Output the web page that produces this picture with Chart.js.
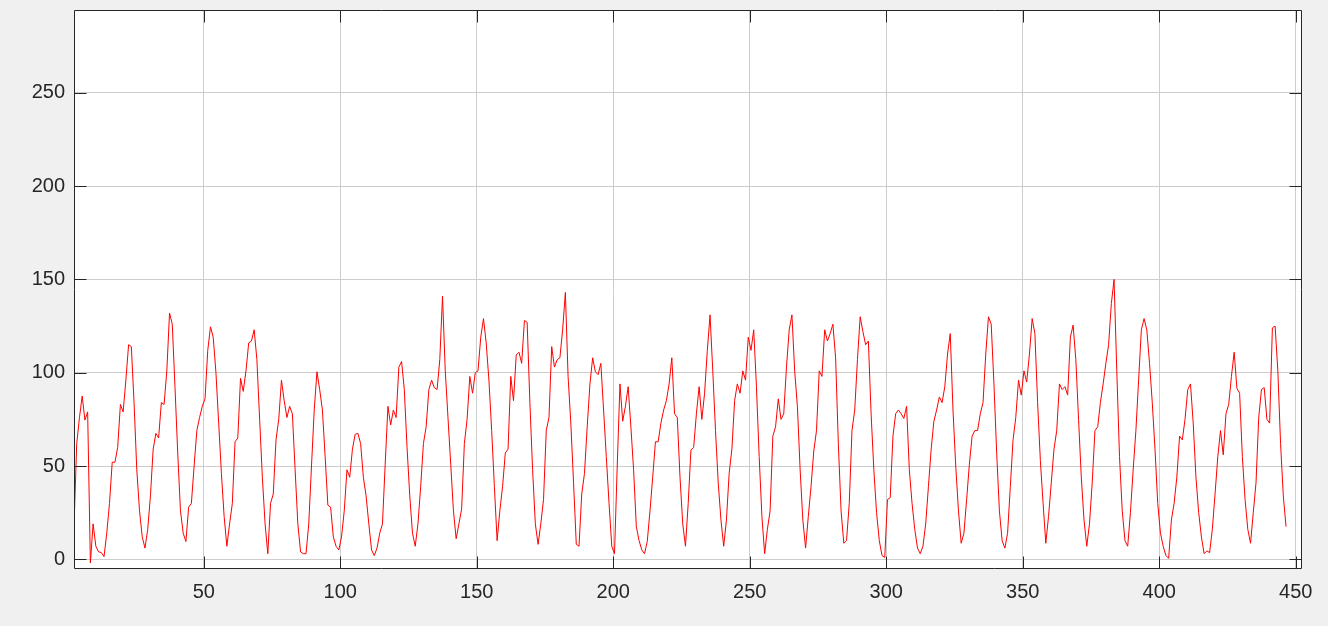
<!DOCTYPE html>
<html>
<head>
<meta charset="utf-8">
<script src="https://cdn.jsdelivr.net/npm/chart.js@4"></script>
<style>
  html, body { margin: 0; padding: 0; background: #f0f0f0; }
  #wrap { width: 1328px; height: 626px; }
</style>
</head>
<body>
<div id="wrap"><canvas id="c" width="1328" height="626"></canvas></div>
<script>
// ---- data ----
const xStart = 2.45;   // x value of the first sample; samples are 1 apart
const values = [
  17.5, 62, 76, 87.5, 74.6, 79, -2, 19, 7, 4, 3.6, 1.4, 14, 30, 52, 52, 60, 83, 79, 96,
  115, 114, 84, 48, 26, 12, 6, 16, 34, 59, 67.5, 65, 84, 83, 101, 132, 126,
  92, 57, 26, 14, 9.5, 28, 30, 50, 69, 76, 82, 86, 112, 124.6, 119, 100, 73, 46, 23, 7,
  19, 30, 63, 65, 97, 90, 101, 116, 117, 123, 107, 75, 44, 19, 3, 30, 35, 64,
  75, 96, 85, 76, 82, 78, 48, 19, 4, 3, 3, 19, 50, 80, 100.5, 91, 80, 55, 29, 28, 12,
  7, 5, 12, 26, 48, 44, 59, 67, 67.5, 62, 44, 34, 19, 5, 2, 6, 14,
  19, 51, 82, 72, 80, 76, 103, 106, 91, 60, 34, 14, 7, 19, 39, 62, 71, 91, 96, 92, 91,
  107, 141, 101, 76, 51, 26, 11, 19, 27, 62, 75, 98, 89, 100, 101, 119, 129,
  116, 96, 69, 39, 10, 26, 39, 57, 59, 98, 85, 109.5, 111, 105, 128, 127, 84, 48, 19, 8,
  19, 32, 69, 76, 114, 103, 107, 108, 123, 143, 98, 73, 41, 8, 7, 35, 46, 71, 94,
  108, 100.5, 99, 105, 80, 55, 30, 7, 3, 50, 94, 74, 82, 92.5, 71, 48, 17.5, 10, 5, 3,
  9.5, 26, 44, 63, 63, 73, 80, 85, 94, 108, 78, 76, 44, 19, 7, 30, 58.6, 60,
  78, 92.5, 75, 89, 112, 131, 101, 69, 41, 21, 7, 21, 46, 59, 85, 94, 89, 101, 96, 119,
  112, 123, 92.5, 55, 23, 3, 16, 26, 66, 71, 86, 75, 78, 103, 123, 131, 101, 82,
  48, 21, 6, 23, 39, 58, 69, 101, 98, 123, 117, 121, 126, 108, 62, 26, 8.6, 10, 30, 69,
  80, 107, 130, 122, 115, 117, 78, 48, 25, 10, 2, 1, 32, 33, 66, 78, 80, 78,
  75.5, 82, 48, 30, 16, 6, 3, 7, 19, 39, 59, 74, 80, 87, 84, 92.5, 110, 121, 80, 50,
  26, 8.6, 14, 32, 51, 66, 69, 69, 78, 84, 110, 130, 126, 94, 57, 26, 10, 6,
  14, 39, 64, 76, 96, 88, 101, 95, 110, 129, 121, 84, 53, 30, 8.6, 23, 41, 59, 69, 94,
  91, 92.5, 88, 119, 125.5, 107, 75, 44, 21, 7, 19, 41, 69, 71, 84, 94, 105, 115,
  137, 150, 101, 55, 26, 10, 7, 25, 48, 69, 96, 123, 129, 123, 105, 84, 59, 30, 14, 7,
  2, 0.5, 21, 30, 44, 66, 64, 75, 91, 94, 73, 44, 25, 12, 3, 4.5, 3.6, 16,
  35, 55, 69, 56, 78, 83, 98, 111, 91.6, 89, 55, 32, 16, 8.6, 25, 41, 76, 91, 92, 75,
  73, 124, 125, 101, 62, 34, 17.5
];
const xTickValues = [50, 100, 150, 200, 250, 300, 350, 400, 450];
const yTickValues = [0, 50, 100, 150, 200, 250];

// ---- chart ----
const points = values.map((v, i) => ({ x: xStart + i, y: v }));

const AXIS_COLOR = '#262626';
const TICK_LEN = 12;

const matlabAxes = {
  id: 'matlabAxes',
  beforeDraw(chart) {
    const { ctx, chartArea: a } = chart;
    ctx.save();
    ctx.fillStyle = '#f0f0f0';
    ctx.fillRect(0, 0, chart.width, chart.height);
    ctx.fillStyle = '#ffffff';
    ctx.fillRect(a.left, a.top, a.right - a.left, a.bottom - a.top);
    ctx.restore();
  },
  afterDraw(chart) {
    const { ctx, chartArea: a, scales } = chart;
    const L = Math.round(a.left) + 0.5, R = Math.round(a.right) - 0.5;
    const T = Math.round(a.top) + 0.5, B = Math.round(a.bottom) - 0.5;
    ctx.save();
    ctx.strokeStyle = AXIS_COLOR;
    ctx.lineWidth = 1;
    ctx.beginPath();
    ctx.rect(L, T, R - L, B - T);
    xTickValues.forEach(v => {
      const px = Math.round(scales.x.getPixelForValue(v)) + 0.5;
      ctx.moveTo(px, B); ctx.lineTo(px, B - TICK_LEN);
      ctx.moveTo(px, T); ctx.lineTo(px, T + TICK_LEN);
    });
    yTickValues.forEach(v => {
      const py = Math.round(scales.y.getPixelForValue(v)) + 0.5;
      ctx.moveTo(L, py); ctx.lineTo(L + TICK_LEN, py);
      ctx.moveTo(R, py); ctx.lineTo(R - TICK_LEN, py);
    });
    ctx.stroke();
    ctx.restore();
  }
};

const tickFont = { family: '"Liberation Sans", Arial, Helvetica, sans-serif', size: 20 };

new Chart(document.getElementById('c'), {
  type: 'line',
  data: {
    datasets: [{
      data: points,
      borderColor: '#ff0000',
      borderWidth: 1,
      pointRadius: 0,
      tension: 0,
      fill: false
    }]
  },
  options: {
    responsive: false,
    devicePixelRatio: 1,
    animation: false,
    plugins: { legend: { display: false }, tooltip: { enabled: false } },
    layout: { autoPadding: false, padding: { top: 10, right: 26, left: 0, bottom: 0 } },
    scales: {
      x: {
        type: 'linear',
        min: 2.45,
        max: 452.3,
        afterFit: s => { s.height = 57; s.paddingLeft = 0; s.paddingRight = 0; },
        afterBuildTicks: s => { s.ticks = xTickValues.map(v => ({ value: v })); },
        grid: { color: '#cdcdcd', lineWidth: 1, drawTicks: false },
        border: { display: false },
        ticks: { color: AXIS_COLOR, font: tickFont, padding: 11, maxRotation: 0, autoSkip: false }
      },
      y: {
        type: 'linear',
        min: -5.2,
        max: 294.4,
        afterFit: s => { s.width = 74; s.paddingTop = 0; s.paddingBottom = 0; },
        afterBuildTicks: s => { s.ticks = yTickValues.map(v => ({ value: v })); },
        grid: { color: '#cdcdcd', lineWidth: 1, drawTicks: false },
        border: { display: false },
        ticks: { color: AXIS_COLOR, font: tickFont, padding: 9, autoSkip: false }
      }
    }
  },
  plugins: [matlabAxes]
});
</script>
</body>
</html>
